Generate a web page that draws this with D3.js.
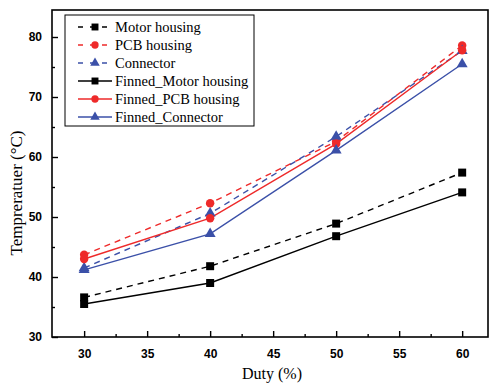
<!DOCTYPE html>
<html>
<head>
<meta charset="utf-8">
<script src="https://cdn.jsdelivr.net/npm/d3@7"></script>
<style>
  html, body { margin: 0; padding: 0; background: #fff; }
  svg { display: block; }
</style>
</head>
<body>
<svg id="chart" width="492" height="385"></svg>
<script>
// Duty cycle (%) on the x axis
const duty = [30, 40, 50, 60];

// Temperatures (°C) for each measurement point
const motorHousing       = [36.6, 41.8, 48.9, 57.4];
const pcbHousing         = [43.7, 52.3, 62.6, 78.6];
const connector          = [41.5, 50.6, 63.4, 77.7];
const finnedMotorHousing = [35.5, 39.0, 46.8, 54.1];
const finnedPcbHousing   = [43.0, 49.8, 62.2, 77.8];
const finnedConnector    = [41.2, 47.2, 61.1, 75.5];

const seriesNames = ["Motor housing", "PCB housing", "Connector",
                     "Finned_Motor housing", "Finned_PCB housing", "Finned_Connector"];
const seriesValues = [motorHousing, pcbHousing, connector,
                      finnedMotorHousing, finnedPcbHousing, finnedConnector];

const xTicks = [30, 35, 40, 45, 50, 55, 60];
const yTicks = [30, 40, 50, 60, 70, 80];

const RED = "#ee2a2a", BLUE = "#3b50a8", BLACK = "#000";
const styles = [
  { color: BLACK, symbol: d3.symbolSquare,   dashed: true,  size: 64 },
  { color: RED,   symbol: d3.symbolCircle,   dashed: true,  size: 56 },
  { color: BLUE,  symbol: d3.symbolTriangle, dashed: true,  size: 52 },
  { color: BLACK, symbol: d3.symbolSquare,   dashed: false, size: 64 },
  { color: RED,   symbol: d3.symbolCircle,   dashed: false, size: 56 },
  { color: BLUE,  symbol: d3.symbolTriangle, dashed: false, size: 52 }
];

const svg = d3.select("#chart");
const L = 52, R = 488, T = 10, B = 337;

const x = d3.scaleLinear().domain([27.45, 62.05]).range([L, R]);
const y = d3.scaleLinear().domain([30, 84.5]).range([B, T]);

// Frame
svg.append("rect").attr("x", L).attr("y", T).attr("width", R - L).attr("height", B - T)
  .attr("fill", "none").attr("stroke", "#000").attr("stroke-width", 1.6);

// Axes with inward ticks
const tickFont = "bold 12px 'Liberation Sans', Arial, sans-serif";
const xAxis = svg.append("g").attr("transform", `translate(0,${B})`)
  .call(d3.axisBottom(x).tickValues(xTicks).tickSizeInner(-6).tickSizeOuter(0).tickPadding(12));
const xMinor = svg.append("g").attr("transform", `translate(0,${B})`)
  .call(d3.axisBottom(x).tickValues(xTicks.slice(0, -1).map(v => v + 2.5)).tickSizeInner(-3).tickSizeOuter(0).tickFormat(""));
const yAxis = svg.append("g").attr("transform", `translate(${L},0)`)
  .call(d3.axisLeft(y).tickValues(yTicks).tickSizeInner(-6).tickSizeOuter(0).tickPadding(10));
const yMinor = svg.append("g").attr("transform", `translate(${L},0)`)
  .call(d3.axisLeft(y).tickValues(yTicks.slice(0, -1).map(v => v + 5)).tickSizeInner(-3).tickSizeOuter(0).tickFormat(""));

[xAxis, xMinor, yAxis, yMinor].forEach(g => {
  g.select(".domain").remove();
  g.selectAll("line").attr("stroke", "#000").attr("stroke-width", 1.4);
  g.selectAll("text").style("font", tickFont).attr("fill", "#000");
});

// Axis titles
svg.append("text").attr("x", 272).attr("y", 379).attr("text-anchor", "middle")
  .style("font", "16px 'Liberation Serif', 'Times New Roman', serif").text("Duty (%)");
svg.append("text").attr("transform", `translate(22,193) rotate(-90)`)
  .attr("text-anchor", "middle")
  .style("font", "17px 'Liberation Serif', 'Times New Roman', serif").text("Tempreratuer (°C)");

// Series lines and markers
const line = d3.line().x((d, i) => x(duty[i])).y(d => y(d));
seriesValues.forEach((vals, k) => {
  const s = styles[k];
  svg.append("path").datum(vals).attr("d", line).attr("fill", "none")
    .attr("stroke", s.color).attr("stroke-width", 1.4)
    .attr("stroke-dasharray", s.dashed ? "6,5" : null);
});
seriesValues.forEach((vals, k) => {
  const s = styles[k];
  svg.append("g").selectAll("path").data(vals).join("path")
    .attr("transform", (d, i) => `translate(${x(duty[i])},${y(d)})`)
    .attr("d", d3.symbol().type(s.symbol).size(s.size))
    .attr("fill", s.color);
});

// Legend
const lg = svg.append("g");
lg.append("rect").attr("x", 65).attr("y", 15).attr("width", 189).attr("height", 111)
  .attr("fill", "#fff").attr("stroke", "#000").attr("stroke-width", 1);
seriesNames.forEach((name, k) => {
  const s = styles[k];
  const cy = 27 + k * 18;
  lg.append("line").attr("x1", 78).attr("x2", 112).attr("y1", cy).attr("y2", cy)
    .attr("stroke", s.color).attr("stroke-width", 1.4)
    .attr("stroke-dasharray", s.dashed ? "5,7" : null);
  lg.append("path").attr("transform", `translate(95,${cy})`)
    .attr("d", d3.symbol().type(s.symbol).size(s.size * 0.75)).attr("fill", s.color);
  lg.append("text").attr("x", 115).attr("y", cy + 5)
    .style("font", "14.5px 'Liberation Serif', 'Times New Roman', serif").text(name);
});
</script>
</body>
</html>
